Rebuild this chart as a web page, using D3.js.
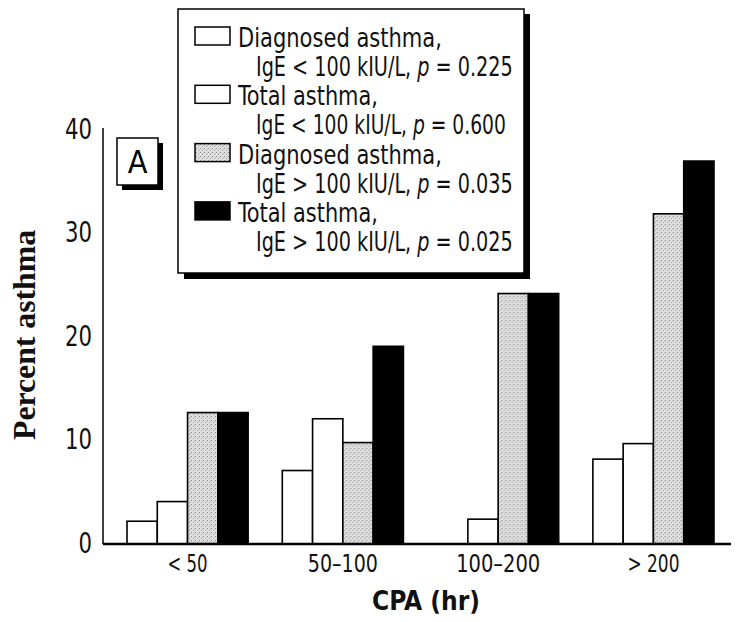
<!DOCTYPE html>
<html><head><meta charset="utf-8">
<script src="https://cdn.jsdelivr.net/npm/d3@7"></script>
<style>
body{margin:0;background:#fff;}
svg{display:block;}
.narrow{font-family:'Liberation Sans Narrow','DejaVu Sans Condensed','DejaVu Sans',sans-serif;font-stretch:condensed;}
</style></head>
<body><svg id="chart" width="739" height="622"></svg>
<script>
const categories = ["< 50", "50\u2013100", "100\u2013200", "> 200"];
const diagLow   = [2.2, 7.1, 0, 8.2];
const totalLow  = [4.1, 12.1, 2.4, 9.7];
const diagHigh  = [12.7, 9.8, 24.2, 31.9];
const totalHigh = [12.7, 19.1, 24.2, 37.0];
const yTicks = [0, 10, 20, 30, 40];
const seriesNames = ["diagLow", "totalLow", "diagHigh", "totalHigh"];
const legendLine1 = ["Diagnosed asthma,", "Total asthma,", "Diagnosed asthma,", "Total asthma,"];
const legendLine2 = [["IgE < 100 kIU/L, ", " = 0.225"], ["IgE < 100 kIU/L, ", " = 0.600"], ["IgE > 100 kIU/L, ", " = 0.035"], ["IgE > 100 kIU/L, ", " = 0.025"]];

const seriesData = {diagLow, totalLow, diagHigh, totalHigh};
const fills = {diagLow: "#ffffff", totalLow: "#ffffff", diagHigh: "url(#stipple)", totalHigh: "#000000"};

const svg = d3.select("#chart");
const defs = svg.append("defs");
const pat = defs.append("pattern").attr("id", "stipple").attr("patternUnits", "userSpaceOnUse")
  .attr("width", 4).attr("height", 4);
pat.append("rect").attr("width", 4).attr("height", 4).attr("fill", "#dedede");
pat.append("rect").attr("x", 0).attr("y", 0).attr("width", 1).attr("height", 1).attr("fill", "#8a8a8a");
pat.append("rect").attr("x", 2).attr("y", 2).attr("width", 1).attr("height", 1).attr("fill", "#a5a5a5");
pat.append("rect").attr("x", 3).attr("y", 1).attr("width", 1).attr("height", 1).attr("fill", "#bcbcbc");

// horizontally scale a text (anchored at its own x/y) so it spans targetW pixels
function fitWidth(sel, targetW, anchorX, anchorY) {
  const w = sel.node().getComputedTextLength();
  const sx = w > 0 ? targetW / w : 1;
  sel.attr("transform", `translate(${anchorX},${anchorY}) scale(${sx},1)`);
}

const x0 = d3.scaleBand().domain(categories).range([127, 714]).paddingInner(0.22).paddingOuter(0);
const x1 = d3.scaleBand().domain(seriesNames).range([0, x0.bandwidth()]).padding(0);
const y = d3.scaleLinear().domain([0, 40]).range([544, 130]);

// bars
const groups = svg.append("g").selectAll("g").data(categories).join("g")
  .attr("transform", d => `translate(${x0(d)},0)`);
groups.selectAll("rect").data((d, i) => seriesNames.map(s => ({s, v: seriesData[s][i]})))
  .join("rect")
  .attr("x", d => x1(d.s))
  .attr("y", d => y(d.v))
  .attr("width", x1.bandwidth())
  .attr("height", d => y(0) - y(d.v))
  .attr("fill", d => fills[d.s])
  .attr("stroke", "#000").attr("stroke-width", 1.6);

// axes lines
svg.append("line").attr("x1", 103).attr("x2", 103).attr("y1", 128).attr("y2", y(0))
  .attr("stroke", "#000").attr("stroke-width", 1.5);
svg.append("line").attr("x1", 103).attr("x2", 731).attr("y1", y(0)).attr("y2", y(0))
  .attr("stroke", "#000").attr("stroke-width", 2.5);

// y axis ticks
const yAxis = d3.axisLeft(y).tickValues(yTicks).tickSize(0).tickPadding(11);
const yg = svg.append("g").attr("transform", "translate(103,0)").call(yAxis);
yg.select(".domain").remove();
yg.selectAll("text").attr("class", "narrow").attr("font-size", 28).attr("fill", "#111")
  .attr("font-family", null).attr("dy", "0.3em")
  .attr("textLength", d => String(d).length * 13.5).attr("lengthAdjust", "spacingAndGlyphs");

// x axis ticks
const xTickWidths = [40, 70, 84, 52];
const xAxis = d3.axisBottom(x0).tickSize(0).tickPadding(0);
const xg = svg.append("g").attr("transform", `translate(0,${y(0)})`).call(xAxis);
xg.select(".domain").remove();
xg.selectAll("text").attr("class", "narrow").attr("font-size", 24).attr("fill", "#111")
  .attr("font-family", null).attr("dy", null).attr("y", 28)
  .attr("textLength", (d, i) => xTickWidths[i]).attr("lengthAdjust", "spacingAndGlyphs");

// axis titles
svg.append("text").attr("transform", "translate(35,335) rotate(-90)")
  .attr("text-anchor", "middle").attr("font-family", "'Liberation Serif','DejaVu Serif',serif")
  .attr("font-weight", "bold").attr("font-size", 31).attr("textLength", 210)
  .attr("lengthAdjust", "spacingAndGlyphs").attr("fill", "#111").text("Percent asthma");
svg.append("text").attr("class", "narrow").attr("x", 426).attr("y", 610)
  .attr("text-anchor", "middle").attr("font-weight", "bold").attr("font-size", 27)
  .attr("textLength", 108).attr("lengthAdjust", "spacingAndGlyphs").attr("fill", "#111").text("CPA (hr)");

// panel label A
svg.append("rect").attr("x", 122).attr("y", 143).attr("width", 41).attr("height", 47).attr("fill", "#000");
svg.append("rect").attr("x", 117).attr("y", 138).attr("width", 41).attr("height", 47)
  .attr("fill", "#fff").attr("stroke", "#000").attr("stroke-width", 1.5);
svg.append("text").attr("class", "narrow").attr("x", 137.5).attr("y", 173)
  .attr("text-anchor", "middle").attr("font-size", 32).attr("fill", "#000").text("A");

// legend
const line1Widths = [204, 140, 204, 140];
const line2Widths = [257, 250, 257, 257];
const lg = svg.append("g");
lg.append("rect").attr("x", 184).attr("y", 14).attr("width", 346).attr("height", 265).attr("fill", "#000");
lg.append("rect").attr("x", 178).attr("y", 9).attr("width", 346).attr("height", 264)
  .attr("fill", "#fff").attr("stroke", "#000").attr("stroke-width", 1.5);
const rowStep = 58.3;
seriesNames.forEach((s, i) => {
  const b = 47 + i * rowStep;
  lg.append("rect").attr("x", 195).attr("y", b - 20).attr("width", 35).attr("height", 18)
    .attr("fill", fills[s]).attr("stroke", "#000").attr("stroke-width", 1.5);
  const t1 = lg.append("text").attr("class", "narrow")
    .attr("font-size", 27).attr("fill", "#111").text(legendLine1[i]);
  fitWidth(t1, line1Widths[i], 238, b);
  const t = lg.append("text").attr("class", "narrow")
    .attr("font-size", 27).attr("fill", "#111");
  t.append("tspan").text(legendLine2[i][0]);
  t.append("tspan").attr("font-style", "italic").text("p");
  t.append("tspan").text(legendLine2[i][1]);
  fitWidth(t, line2Widths[i], 256, b + 29);
});
</script>
</body></html>
